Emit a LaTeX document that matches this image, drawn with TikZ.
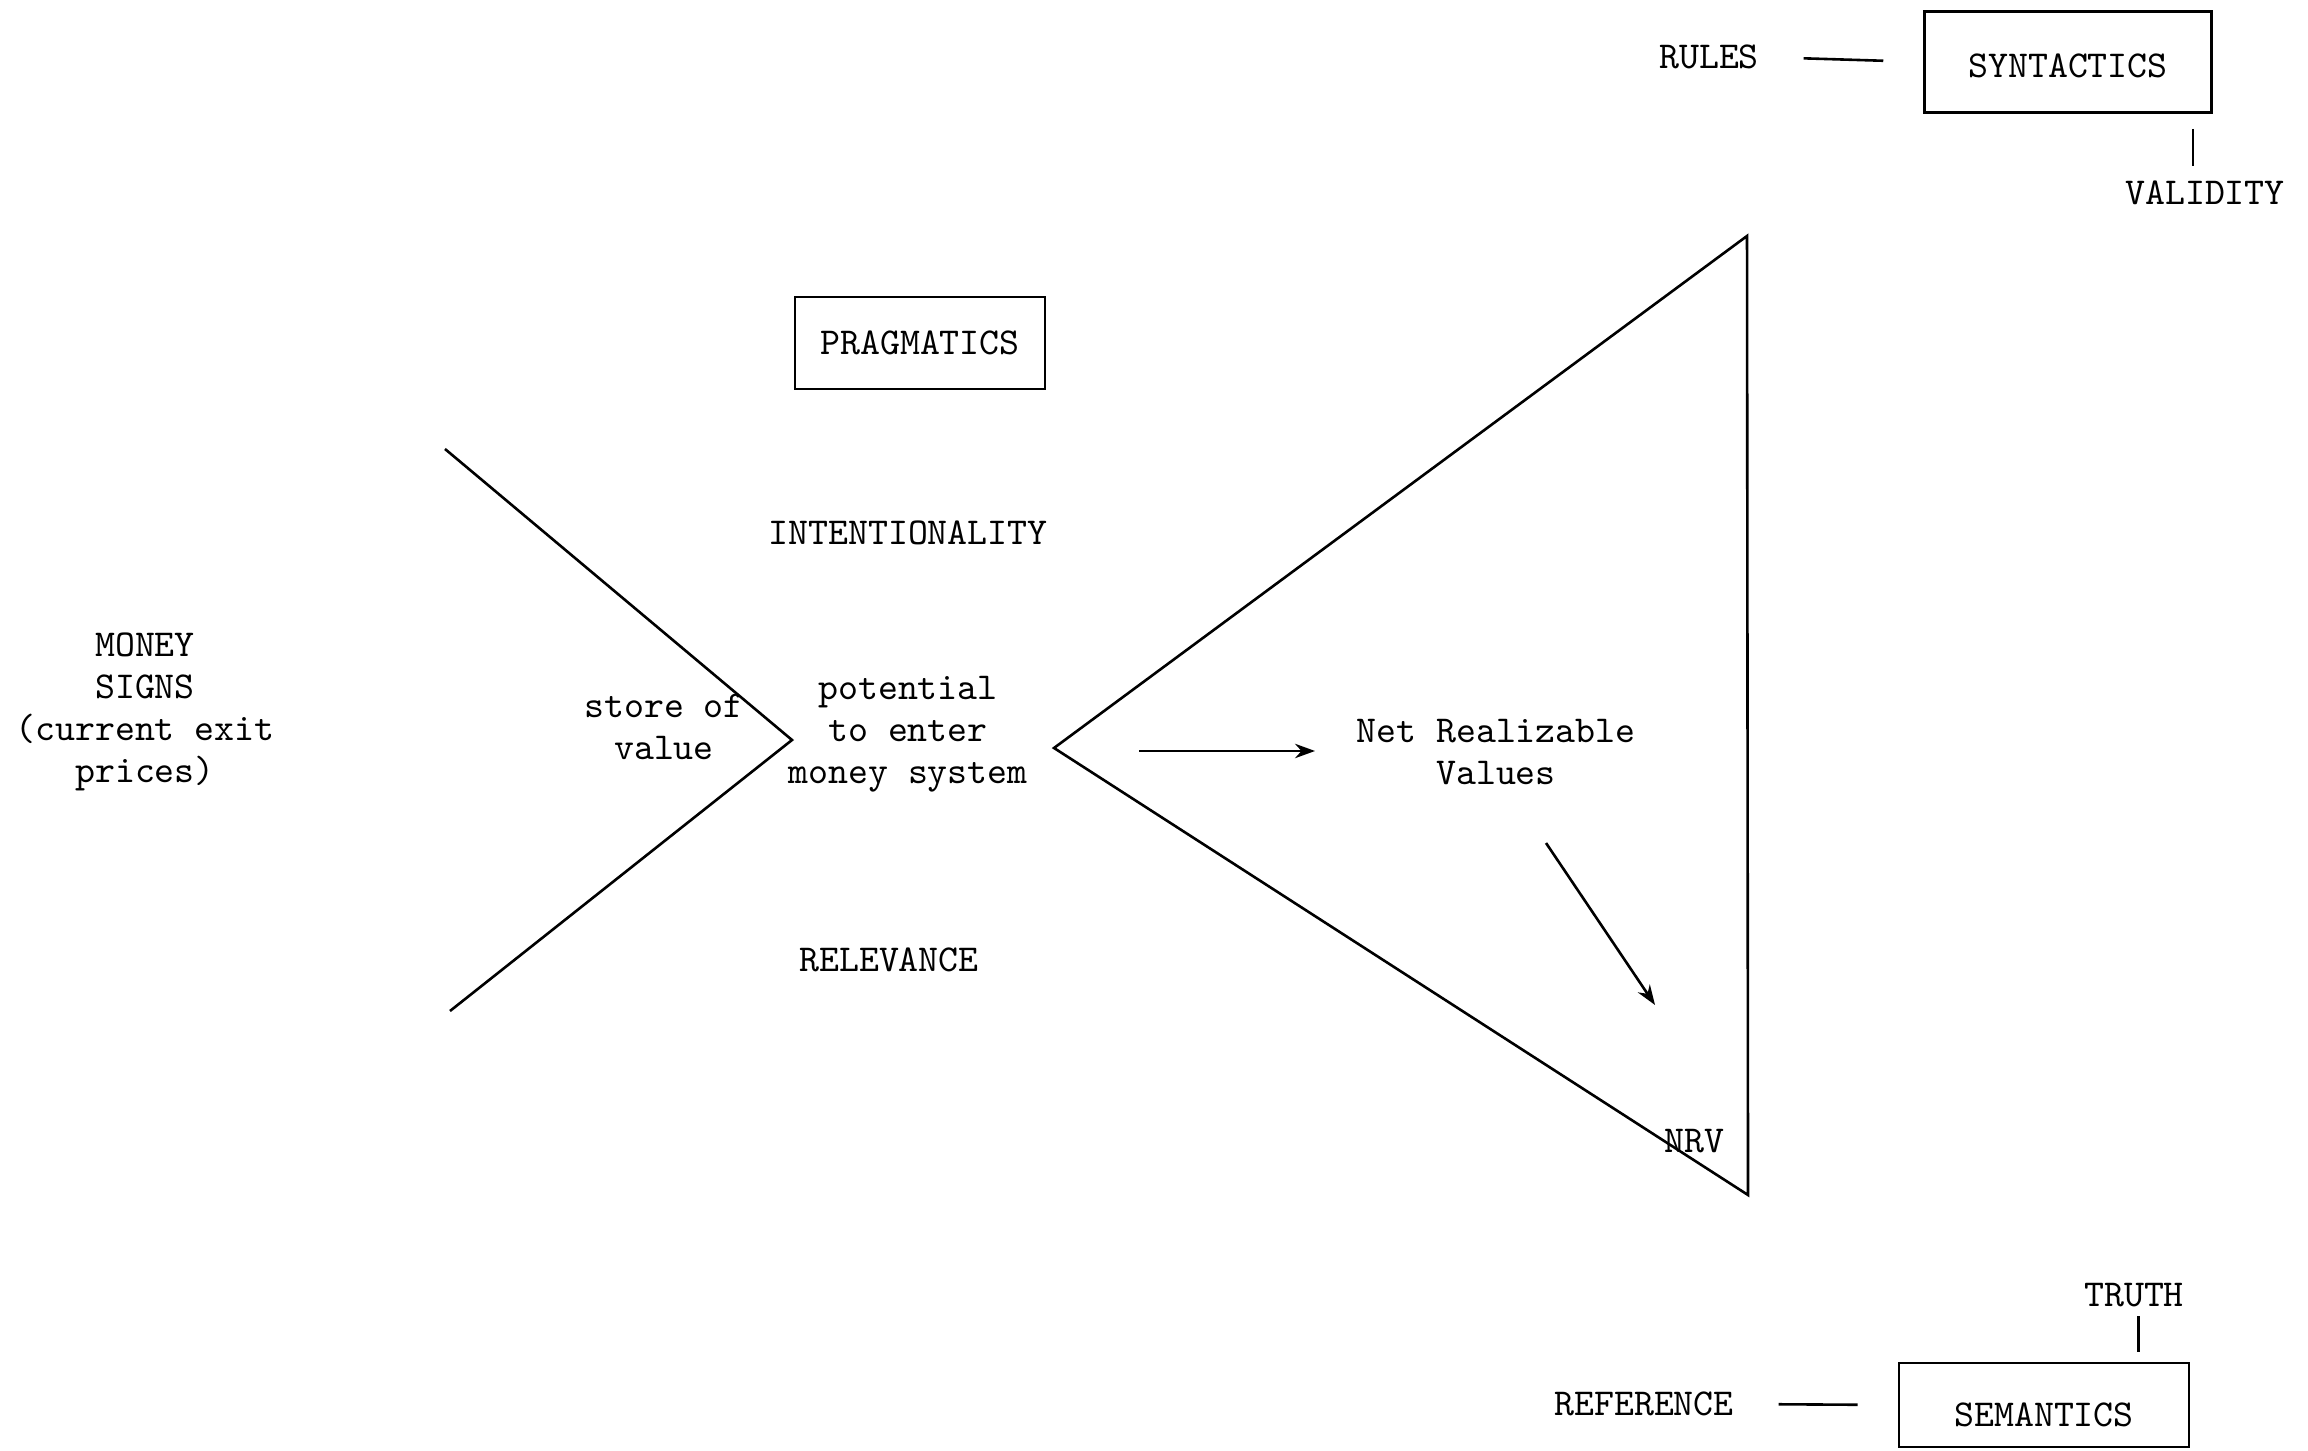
\documentclass[tikz,border=0pt]{standalone}
\usepackage{fontspec}
\usetikzlibrary{arrows.meta,calc}
\begin{document}
\begin{tikzpicture}[x=0.25pt,y=-0.25pt,
  txt/.style={inner sep=0pt, align=center, font=\ttfamily\fontsize{9.5}{10.5}\selectfont},
  box/.style={txt, draw, line width=0.65pt},
  ln/.style={line width=0.65pt},
  arr/.style={ln, -{Stealth[length=5pt,width=3.6pt]}}]
\useasboundingbox (0,0) rectangle (2308,1451);

% the three branches of semiotics
\node[box, minimum width=71.75pt, minimum height=25.25pt, text height=8pt, text depth=0pt] (syn) at (2068,62) {SYNTACTICS};
\node[txt] (rules) at (1709,57) {RULES};
\node[txt] (valid) at (2205,193) {VALIDITY};
\draw[ln, shorten <=11pt, shorten >=10pt] (rules.east) -- (syn.west);
\draw[ln] ($(syn.south east)+(-20,15)$) -- ($(syn.south east)+(-20,52)$);

\node[box, minimum width=62.5pt, minimum height=23pt] (prag) at (920,343) {PRAGMATICS};

\node[box, minimum width=72.5pt, minimum height=21pt, text height=10.8pt, text depth=0pt] (sem) at (2044,1405) {SEMANTICS};
\node[txt] (refer) at (1644,1404) {REFERENCE};
\node[txt] (truth) at (2134,1295) {TRUTH};
\draw[ln, shorten <=11pt, shorten >=10pt] (refer.east) -- (sem.west);
\draw[ln] ($(sem.north east)+(-52,-10)$) -- ($(sem.north east)+(-52,-46)$);

% pragmatic dimension labels
\node[txt] (intent) at (908,533) {INTENTIONALITY};
\node[txt] (relev) at (889,960) {RELEVANCE};

% left chevron: money signs as a store of value
\draw[ln] (445,449) -- (792,740) -- (450,1011);
\node[txt] (money) at (145,712) {MONEY\\SIGNS\\(current exit\\prices)};
\node[txt] (store) at (664,727) {store of\\value};
\node[txt] (poten) at (908,734) {potential\\to enter\\money system};

% right triangle: net realizable values
\coordinate (tl) at (1054,748);
\coordinate (tt) at (1747,236);
\coordinate (tb) at (1748,1195);
\draw[ln] (tt) -- (tl) -- (tb) -- cycle;
\node[txt] (nrvals) at (1496,752) {Net Realizable\\Values};
\node[txt] (nrv) at (1694,1141) {NRV};
\draw[arr] (1139,751) -- (1315,751);
\draw[arr] (1546,843) -- (1655,1005);
\end{tikzpicture}
\end{document}
